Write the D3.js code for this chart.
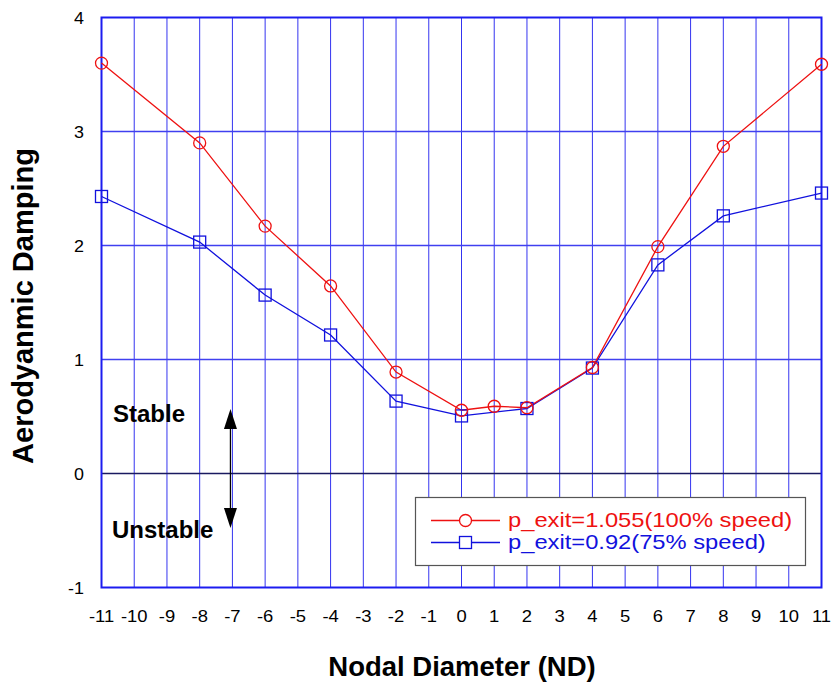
<!DOCTYPE html>
<html>
<head>
<meta charset="utf-8">
<script src="https://cdn.jsdelivr.net/npm/d3@7"></script>
<style>
  html, body { margin: 0; padding: 0; background: #fff; }
  svg { display: block; }
</style>
</head>
<body>
<script>
// Nodal diameters and aerodynamic damping for the two operating points
const ndHigh = [-11, -8, -6, -4, -2, 0, 1, 2, 4, 6, 8, 11];
const dampHigh = [3.60, 2.90, 2.17, 1.645, 0.89, 0.555, 0.59, 0.577, 0.93, 1.99, 2.87, 3.59];
const ndLow = [-11, -8, -6, -4, -2, 0, 2, 4, 6, 8, 11];
const dampLow = [2.43, 2.03, 1.565, 1.215, 0.635, 0.505, 0.57, 0.925, 1.83, 2.26, 2.46];
const xTicks = d3.range(-11, 12);
const yTicks = [-1, 0, 1, 2, 3, 4];
const seriesNames = ["p_exit=1.055(100% speed)", "p_exit=0.92(75% speed)"];

const W = 831, H = 682;
const margin = { left: 101.5, right: 9.5, top: 17.5, bottom: 94.5 };

const svg = d3.select("body").append("svg").attr("width", W).attr("height", H);

const x = d3.scaleLinear().domain([-11, 11]).range([margin.left, W - margin.right]);
const y = d3.scaleLinear().domain([-1, 4]).range([H - margin.bottom, margin.top]);

const font = "Arial, 'Liberation Sans', Helvetica, sans-serif";

// Text helper: places a label at (px, py) with an optional horizontal widening
function label(g, px, py, str, opts) {
  const o = Object.assign({ size: 16, anchor: "start", weight: "normal", fill: "#000", sx: 1 }, opts);
  return g.append("text")
    .attr("transform", `translate(${px},${py}) scale(${o.sx},1)`)
    .attr("text-anchor", o.anchor)
    .attr("font-family", font).attr("font-size", o.size)
    .attr("font-weight", o.weight).attr("fill", o.fill)
    .text(str);
}

// Vertical grid lines at every nodal diameter
svg.append("g").selectAll("line").data(xTicks).join("line")
  .attr("x1", d => x(d)).attr("x2", d => x(d))
  .attr("y1", y(4)).attr("y2", y(-1))
  .attr("stroke", "#3434f0").attr("stroke-width", 1);

// Horizontal grid lines
svg.append("g").selectAll("line").data([1, 2, 3]).join("line")
  .attr("x1", x(-11)).attr("x2", x(11))
  .attr("y1", d => y(d)).attr("y2", d => y(d))
  .attr("stroke", "#4040f0").attr("stroke-width", 1.6);

// Zero-damping line
svg.append("line")
  .attr("x1", x(-11)).attr("x2", x(11))
  .attr("y1", y(0)).attr("y2", y(0))
  .attr("stroke", "#1a1a60").attr("stroke-width", 1.6);

// Plot frame
svg.append("rect")
  .attr("x", x(-11)).attr("y", y(4))
  .attr("width", x(11) - x(-11)).attr("height", y(-1) - y(4))
  .attr("fill", "none").attr("stroke", "#1c1cf0").attr("stroke-width", 2);

// Tick labels
const yLab = svg.append("g");
yTicks.forEach(d => label(yLab, 84, y(d) + 6, d, { size: 16.3, anchor: "end", sx: 1.1 }));

const xLab = svg.append("g");
xTicks.forEach(d => label(xLab, x(d), 622, d, { size: 16.3, anchor: "middle", sx: 1.13 }));

// Axis titles
svg.append("text")
  .attr("transform", `translate(33, 306) rotate(-90)`)
  .attr("text-anchor", "middle")
  .attr("font-family", font).attr("font-weight", "bold").attr("font-size", 29)
  .text("Aerodyanmic Damping");

label(svg, 462, 676, "Nodal Diameter (ND)", { size: 27.5, anchor: "middle", weight: "bold" });

// Stable / unstable annotation
label(svg, 113, 422, "Stable", { size: 24, weight: "bold" });
label(svg, 112, 538, "Unstable", { size: 24, weight: "bold" });

const ax = x(-7.06);
svg.append("line").attr("x1", ax).attr("x2", ax).attr("y1", 420).attr("y2", 515)
  .attr("stroke", "#000").attr("stroke-width", 1.3);
svg.append("path")
  .attr("d", `M${ax},409 L${ax - 6.5},429 L${ax + 6.5},429 Z`).attr("fill", "#000");
svg.append("path")
  .attr("d", `M${ax},528 L${ax - 6.5},508 L${ax + 6.5},508 Z`).attr("fill", "#000");

// Data series
const red = "#ee1111", blue = "#1111dd";
const line = d3.line().x(d => x(d[0])).y(d => y(d[1]));

const highPts = ndHigh.map((n, i) => [n, dampHigh[i]]);
const lowPts = ndLow.map((n, i) => [n, dampLow[i]]);

svg.append("path").datum(lowPts).attr("d", line)
  .attr("fill", "none").attr("stroke", blue).attr("stroke-width", 1.3);
svg.append("path").datum(highPts).attr("d", line)
  .attr("fill", "none").attr("stroke", red).attr("stroke-width", 1.3);

svg.append("g").selectAll("rect").data(lowPts).join("rect")
  .attr("x", d => x(d[0]) - 6).attr("y", d => y(d[1]) - 6)
  .attr("width", 12).attr("height", 12)
  .attr("fill", "none").attr("stroke", blue).attr("stroke-width", 1.3);
svg.append("g").selectAll("circle").data(highPts).join("circle")
  .attr("cx", d => x(d[0])).attr("cy", d => y(d[1])).attr("r", 6)
  .attr("fill", "none").attr("stroke", red).attr("stroke-width", 1.3);

// Legend
const lg = svg.append("g");
lg.append("rect").attr("x", 415.5).attr("y", 497.5).attr("width", 390).attr("height", 68)
  .attr("fill", "#fff").attr("stroke", "#555").attr("stroke-width", 1.2);
const rows = [
  { name: seriesNames[0], color: red, yy: 520.5, shape: "circle" },
  { name: seriesNames[1], color: blue, yy: 542.5, shape: "square" }
];
rows.forEach(r => {
  lg.append("line").attr("x1", 431).attr("x2", 500).attr("y1", r.yy).attr("y2", r.yy)
    .attr("stroke", r.color).attr("stroke-width", 1.3);
  if (r.shape === "circle") {
    lg.append("circle").attr("cx", 465.5).attr("cy", r.yy).attr("r", 6)
      .attr("fill", "#fff").attr("stroke", r.color).attr("stroke-width", 1.3);
  } else {
    lg.append("rect").attr("x", 459.5).attr("y", r.yy - 6).attr("width", 12).attr("height", 12)
      .attr("fill", "#fff").attr("stroke", r.color).attr("stroke-width", 1.3);
  }
  label(lg, 508, r.yy + 6.5, r.name, { size: 21, fill: r.color, sx: 1.13 });
});
</script>
</body>
</html>
